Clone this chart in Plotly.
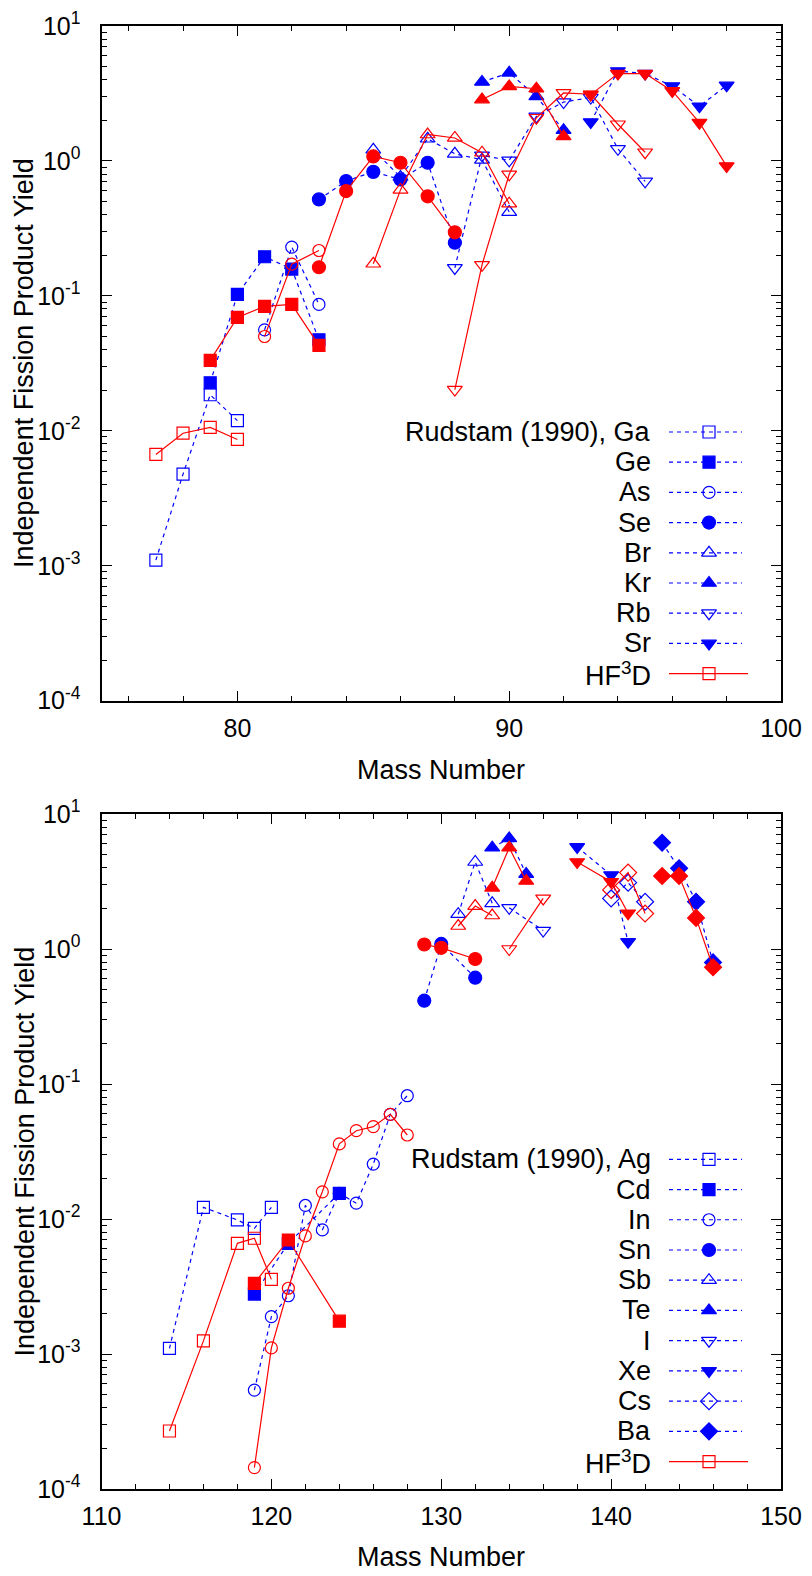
import plotly.graph_objects as go

# ---------------- data: top panel (A = 77..98) ----------------
ga_mass = [77, 78, 79, 80]
ga_rud = [0.0011, 0.00478, 0.0185, 0.0119]
ga_hf = [0.00668, 0.0096, 0.0106, 0.00863]

ge_mass = [79, 80, 81, 82, 83]
ge_rud = [0.0227, 0.1026, 0.195, 0.158, 0.0473]
ge_hf = [0.0333, 0.0693, 0.0836, 0.0865, 0.043]

as_mass = [81, 82, 83]
as_rud = [0.056, 0.23, 0.0865]
as_hf = [0.050, 0.172, 0.217]

se_mass = [83, 84, 85, 86, 87, 88]
se_rud = [0.519, 0.71, 0.83, 0.73, 0.97, 0.248]
se_hf = [0.163, 0.598, 1.08, 0.97, 0.547, 0.296]

br_mass = [85, 86, 87, 88, 89, 90]
br_rud = [1.21, 0.76, 1.46, 1.13, 1.02, 0.418]
br_hf = [0.173, 0.61, 1.57, 1.48, 1.15, 0.482]

kr_mass = [89, 90, 91, 92]
kr_rud = [3.85, 4.5, 3.01, 1.69]
kr_hf = [2.85, 3.57, 3.43, 1.52]

rb_mass = [88, 89, 90, 91, 92, 93, 94, 95]
rb_rud = [0.161, 1.1, 1.01, 2.14, 2.73, 2.95, 1.23, 0.706]
rb_hf = [0.0202, 0.170, 0.796, 2.09, 3.19, 3.12, 1.87, 1.16]

sr_mass = [93, 94, 95, 96, 97, 98]
sr_rud = [1.94, 4.64, 4.44, 3.59, 2.54, 3.63]
sr_hf = [3.1, 4.44, 4.44, 3.30, 1.92, 0.916]

# ---------------- data: bottom panel (A = 114..146) ----------------
ag_mass = [114, 116, 118, 119, 120]
ag_rud = [0.0011, 0.0122, 0.00984, 0.00853, 0.0122]
ag_hf = [0.000269, 0.00125, 0.0066, 0.0072, 0.00357]

cd_mass = [119, 121, 124]
cd_rud = [0.00278, 0.0066, 0.0155]
cd_hf = [0.00334, 0.00699, 0.00175]

in_mass = [119, 120, 121, 122, 123, 124, 125, 126, 127, 128]
in_rud = [0.00054, 0.00189, 0.0027, 0.0126, 0.0083, 0.0155, 0.0131, 0.0255, 0.0596, 0.0819]
in_hf = [0.000144, 0.00111, 0.00307, 0.00749, 0.0159, 0.036, 0.0451, 0.0483, 0.0596, 0.0419]

sn_mass = [129, 130, 132]
sn_rud = [0.414, 1.09, 0.613]
sn_hf = [1.08, 1.02, 0.843]

sb_mass = [131, 132, 133]
sb_rud = [1.81, 4.41, 2.18]
sb_hf = [1.48, 2.08, 1.77]

te_mass = [133, 134, 135]
te_rud = [5.63, 6.6, 3.59]
te_hf = [2.84, 5.63, 3.19]

i_mass = [134, 136]
i_rud = [2.02, 1.37]
i_hf = [1.0, 2.37]

xe_mass = [138, 140, 141]
xe_rud = [5.7, 3.53, 1.13]
xe_hf = [4.41, 3.15, 1.84]

cs_mass = [140, 141, 142]
cs_rud = [2.37, 3.1, 2.24]
cs_hf = [2.74, 3.68, 1.83]

ba_mass = [143, 144, 145, 146]
ba_rud = [6.13, 3.96, 2.24, 0.796]
ba_hf = [3.47, 3.47, 1.70, 0.732]

top_labels = ["Rudstam (1990), Ga", "Ge", "As", "Se", "Br", "Kr", "Rb", "Sr", "HF<sup>3</sup>D"]
bot_labels = ["Rudstam (1990), Ag", "Cd", "In", "Sn", "Sb", "Te", "I", "Xe", "Cs", "Ba", "HF<sup>3</sup>D"]

y_tickvals = [1e-4, 1e-3, 1e-2, 1e-1, 1, 10]
y_ticktext = ["10<sup>-4</sup>", "10<sup>-3</sup>", "10<sup>-2</sup>", "10<sup>-1</sup>",
              "10<sup>0</sup>", "10<sup>1</sup>"]

# ---------------- styling ----------------
BLUE = "#0000ff"
RED = "#ff0000"
FONT = "Liberation Sans, Arial, sans-serif"
OFF = 8            # page body margin offset
W, H = 804, 1568   # figure size (page window 812x1576 minus body margin)


def px(xp):
    return (xp - OFF) / W


def py(yp):
    return 1 - (yp - OFF) / H


sym = {
    "sq_o": "square-open", "sq_f": "square", "ci_o": "circle-open", "ci_f": "circle",
    "tu_o": "triangle-up-open", "tu_f": "triangle-up", "td_o": "triangle-down-open",
    "td_f": "triangle-down", "di_o": "diamond-open", "di_f": "diamond",
}
msize = {"sq_o": 12, "sq_f": 12, "ci_o": 12, "ci_f": 13, "tu_o": 13, "tu_f": 13,
         "td_o": 13, "td_f": 13, "di_o": 13, "di_f": 13}

top_series = [
    (ga_mass, ga_rud, ga_hf, "sq_o"), (ge_mass, ge_rud, ge_hf, "sq_f"),
    (as_mass, as_rud, as_hf, "ci_o"), (se_mass, se_rud, se_hf, "ci_f"),
    (br_mass, br_rud, br_hf, "tu_o"), (kr_mass, kr_rud, kr_hf, "tu_f"),
    (rb_mass, rb_rud, rb_hf, "td_o"), (sr_mass, sr_rud, sr_hf, "td_f"),
]
bot_series = [
    (ag_mass, ag_rud, ag_hf, "sq_o"), (cd_mass, cd_rud, cd_hf, "sq_f"),
    (in_mass, in_rud, in_hf, "ci_o"), (sn_mass, sn_rud, sn_hf, "ci_f"),
    (sb_mass, sb_rud, sb_hf, "tu_o"), (te_mass, te_rud, te_hf, "tu_f"),
    (i_mass, i_rud, i_hf, "td_o"), (xe_mass, xe_rud, xe_hf, "td_f"),
    (cs_mass, cs_rud, cs_hf, "di_o"), (ba_mass, ba_rud, ba_hf, "di_f"),
]

fig = go.Figure()


def marker(color, key):
    return dict(symbol=sym[key], size=msize[key], color=color, line=dict(color=color, width=1.2))


def add_panel(series, xa, ya):
    for m, r, h, k in series:
        fig.add_trace(go.Scatter(x=m, y=r, mode="lines+markers", xaxis=xa, yaxis=ya,
                                 line=dict(color=BLUE, width=1.2, dash="4px,4px"),
                                 marker=marker(BLUE, k), showlegend=False, hoverinfo="skip"))
    for m, r, h, k in series:
        fig.add_trace(go.Scatter(x=m, y=h, mode="lines+markers", xaxis=xa, yaxis=ya,
                                 line=dict(color=RED, width=1.2),
                                 marker=marker(RED, k), showlegend=False, hoverinfo="skip"))


add_panel(top_series, "x", "y")
add_panel(bot_series, "x2", "y2")


# ---------------- custom legends (text left, sample right) ----------------
def add_legend(labels, series, y0, step):
    for i, lab in enumerate(labels):
        yy = y0 + i * step
        fig.add_annotation(x=px(652.5), y=py(yy), xref="paper", yref="paper",
                           text=lab, showarrow=False, xanchor="right", yanchor="middle",
                           font=dict(family=FONT, size=27, color="black"))
        if i < len(series):
            k = series[i][3]
            fig.add_trace(go.Scatter(x=[669, 742], y=[yy, yy], mode="lines", xaxis="x3", yaxis="y3",
                                     line=dict(color=BLUE, width=1.2, dash="4px,4px"),
                                     showlegend=False, hoverinfo="skip"))
            fig.add_trace(go.Scatter(x=[709], y=[yy], mode="markers", xaxis="x3", yaxis="y3",
                                     marker=marker(BLUE, k), showlegend=False, hoverinfo="skip"))
        else:
            fig.add_trace(go.Scatter(x=[669, 748], y=[yy, yy], mode="lines", xaxis="x3", yaxis="y3",
                                     line=dict(color=RED, width=1.2),
                                     showlegend=False, hoverinfo="skip"))
            fig.add_trace(go.Scatter(x=[709], y=[yy], mode="markers", xaxis="x3", yaxis="y3",
                                     marker=marker(RED, "sq_o"), showlegend=False, hoverinfo="skip"))


add_legend(top_labels, top_series, 432.0, 30.2)
add_legend(bot_labels, bot_series, 1159.3, 30.23)

# ---------------- axes ----------------
xdom = [px(101.5), px(781.0)]
ydom_top = [py(700.7), py(26.0)]
ydom_bot = [py(1489.0), py(814.0)]

minor_y = [b * 10 ** e for e in range(-4, 1) for b in range(2, 10)]

common_x = dict(showgrid=False, zeroline=False, showline=True, linecolor="black", linewidth=2,
                mirror="ticks", ticks="inside", ticklen=10, tickwidth=1.2, tickcolor="black",
                dtick=10, tickfont=dict(family=FONT, size=25, color="black"),
                ticklabelstandoff=4, automargin=False,
                minor=dict(ticks="inside", ticklen=5, tickwidth=1.2, tickcolor="black", dtick=2,
                           showgrid=False))
common_y = dict(type="log", range=[-4, 1], showgrid=False, zeroline=False, showline=True,
                linecolor="black", linewidth=2, mirror="ticks", ticks="inside", ticklen=10,
                tickwidth=1.2, tickcolor="black", tickmode="array", tickvals=y_tickvals,
                ticktext=y_ticktext, tickfont=dict(family=FONT, size=25, color="black"),
                ticklabelstandoff=14, automargin=False,
                minor=dict(ticks="inside", ticklen=5, tickwidth=1.2, tickcolor="black",
                           tickmode="array", tickvals=minor_y, showgrid=False))

fig.update_layout(
    width=W, height=H, margin=dict(l=0, r=0, t=0, b=0, autoexpand=False),
    paper_bgcolor="white", plot_bgcolor="rgba(0,0,0,0)",
    showlegend=False,
    xaxis=dict(domain=xdom, anchor="y", range=[75, 100], **common_x),
    yaxis=dict(domain=ydom_top, anchor="x", **common_y),
    xaxis2=dict(domain=xdom, anchor="y2", range=[110, 150], **common_x),
    yaxis2=dict(domain=ydom_bot, anchor="x2", **common_y),
    xaxis3=dict(domain=[0, 1], anchor="y3", range=[OFF, OFF + W], visible=False, fixedrange=True,
                automargin=False),
    yaxis3=dict(domain=[0, 1], anchor="x3", range=[OFF + H, OFF], visible=False, fixedrange=True,
                automargin=False),
)

# axis titles
for yc in [770.0, 1557.0]:
    fig.add_annotation(x=px(441.0), y=py(yc), xref="paper", yref="paper", text="Mass Number",
                       showarrow=False, xanchor="center", yanchor="middle",
                       font=dict(family=FONT, size=27, color="black"))
for yc in [363.0, 1151.5]:
    fig.add_annotation(x=px(24.0), y=py(yc), xref="paper", yref="paper",
                       text="Independent Fission Product Yield", textangle=-90,
                       showarrow=False, xanchor="center", yanchor="middle",
                       font=dict(family=FONT, size=27, color="black"))

fig.write_html("out.html")
